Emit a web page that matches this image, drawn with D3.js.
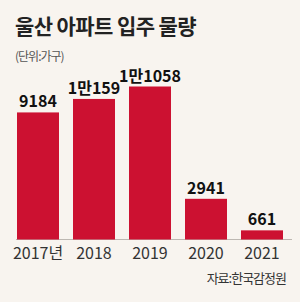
<!DOCTYPE html>
<html>
<head>
<meta charset="utf-8">
<script src="https://cdn.jsdelivr.net/npm/d3@7"></script>
<style>
  body { margin: 0; background: #f8f4ef; }
  svg { display: block; }
</style>
</head>
<body>
<div id="chart"></div>
<script>
var years = ["2017년", "2018", "2019", "2020", "2021"];
var values = [9184, 10159, 11058, 2941, 661];
var valueLabels = ["9184", "1만159", "1만1058", "2941", "661"];

var width = 300, height = 302;
var svg = d3.select("#chart").append("svg")
    .attr("width", width)
    .attr("height", height);

svg.append("rect").attr("width", width).attr("height", height).attr("fill", "#f8f4ef");

// title + unit
svg.append("text")
    .attr("x", 15).attr("y", 34)
    .style("font-family", "'Noto Sans CJK KR'")
    .style("font-size", "21px")
    .style("font-weight", "bold")
    .attr("fill", "#222")
    .attr("letter-spacing", "-0.6")
    .text("울산 아파트 입주 물량");

svg.append("text")
    .attr("x", 15).attr("y", 61)
    .style("font-family", "'Noto Sans CJK KR'")
    .style("font-size", "12px")
    .attr("fill", "#555")
    .attr("letter-spacing", "-1")
    .text("(단위:가구)");

var x = d3.scaleBand().domain(years).range([10, 290]).paddingInner(0.25).paddingOuter(0.125);
var y = d3.scaleLinear().domain([0, 11058]).range([239.5, 86.5]);

// baseline
svg.append("line")
    .attr("x1", 16).attr("x2", 292)
    .attr("y1", y(0)).attr("y2", y(0))
    .attr("stroke", "#bdb8b2").attr("stroke-width", 1);

svg.selectAll(".bar").data(values).enter().append("rect")
    .attr("class", "bar")
    .attr("x", function(d, i) { return x(years[i]); })
    .attr("width", x.bandwidth())
    .attr("y", function(d) { return y(d); })
    .attr("height", function(d) { return y(0) - y(d); })
    .attr("fill", "#cc1131");

svg.selectAll(".val").data(values).enter().append("text")
    .attr("class", "val")
    .attr("x", function(d, i) { return x(years[i]) + x.bandwidth() / 2; })
    .attr("y", function(d) { return y(d) - 5; })
    .attr("text-anchor", "middle")
    .style("font-family", "'Liberation Sans Narrow', 'Noto Sans CJK KR'")
    .style("font-size", "16px")
    .style("font-weight", "bold")
    .attr("fill", "#111")
    .text(function(d, i) { return valueLabels[i]; });

var xAxis = svg.append("g")
    .attr("transform", "translate(0," + y(0) + ")")
    .call(d3.axisBottom(x).tickSize(0).tickPadding(8));
xAxis.select(".domain").remove();
xAxis.selectAll("text")
    .style("font-family", "'Liberation Sans Narrow', 'Noto Sans CJK KR'")
    .style("font-size", "16px")
    .attr("fill", "#333");

svg.append("text")
    .attr("x", 286).attr("y", 283)
    .attr("text-anchor", "end")
    .style("font-family", "'Noto Sans CJK KR'")
    .style("font-size", "13px")
    .attr("fill", "#333")
    .attr("letter-spacing", "-1")
    .text("자료:한국감정원");
</script>
</body>
</html>
